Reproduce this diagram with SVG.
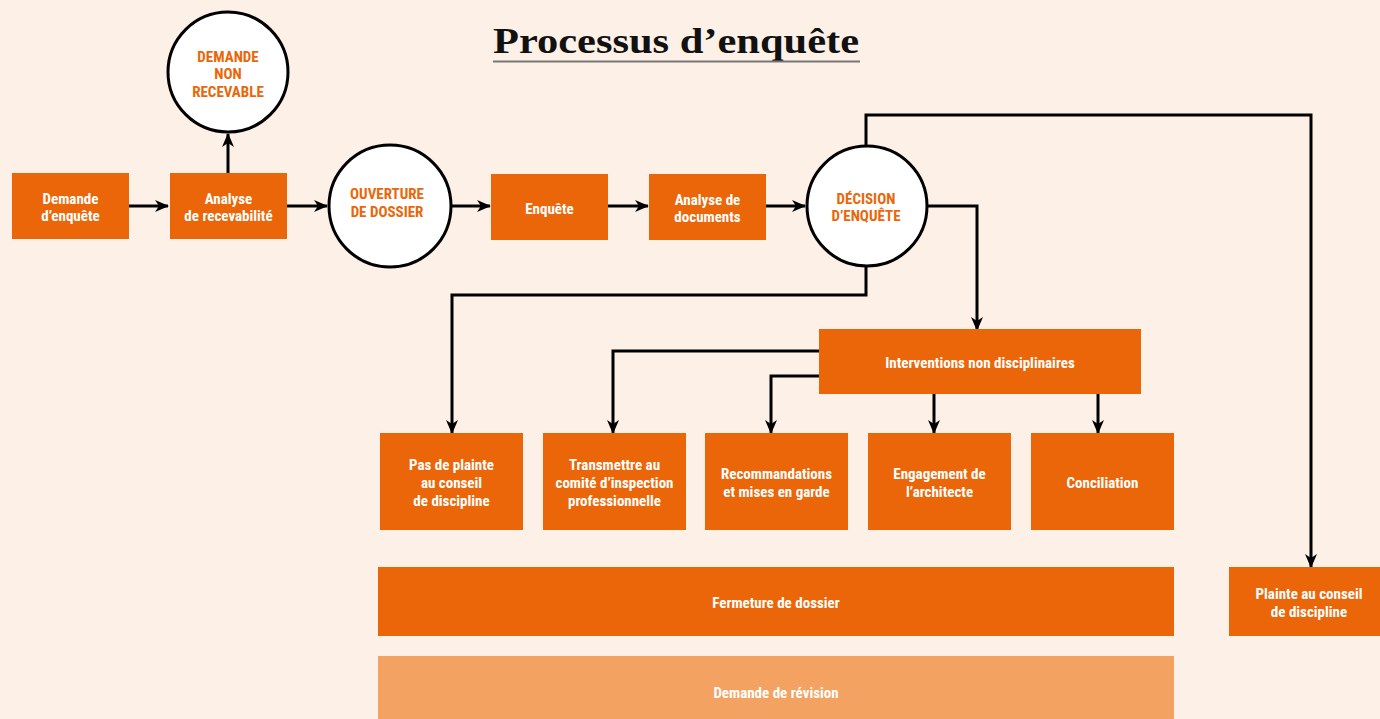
<svg xmlns="http://www.w3.org/2000/svg" width="1380" height="719" viewBox="0 0 1380 719">
<defs>
<marker id="ah" viewBox="0 0 14 12" refX="13" refY="6" markerWidth="14" markerHeight="12" markerUnits="userSpaceOnUse" orient="auto">
<path d="M0,0 L14,6 L0,12 L4,6 Z" fill="#000"/>
</marker>
<style>
.box{fill:#EB6608}
.light{fill:#F4A261}
.circ{fill:#fff;stroke:#000;stroke-width:3}
.t{font-family:"Roboto Condensed","DejaVu Sans Condensed","Liberation Sans",sans-serif;font-weight:bold;font-size:15px;fill:#fff;text-anchor:middle}
.ct{font-family:"Roboto Condensed","DejaVu Sans Condensed","Liberation Sans",sans-serif;font-weight:bold;font-size:15px;fill:#EB6608;text-anchor:middle}
.c{fill:none;stroke:#000;stroke-width:3}
</style>
</defs>
<rect width="1380" height="719" fill="#FDF0E7"/>
<g id="title">
<text x="493" y="53" font-family="Liberation Serif, serif" font-weight="bold" font-size="36" textLength="366" lengthAdjust="spacingAndGlyphs" fill="#111">Processus d’enquête</text>
<line x1="493" y1="61.5" x2="860" y2="61.5" stroke="#777" stroke-width="2"/>
</g>
<g id="connectors">
<path class="c" d="M129,206 H168" marker-end="url(#ah)"/>
<path class="c" d="M228,173 V134" marker-end="url(#ah)"/>
<path class="c" d="M287,206 H327" marker-end="url(#ah)"/>
<path class="c" d="M451,206 H490" marker-end="url(#ah)"/>
<path class="c" d="M608,206 H648" marker-end="url(#ah)"/>
<path class="c" d="M766,206 H805" marker-end="url(#ah)"/>
<path class="c" d="M928,206 H977 V330" marker-end="url(#ah)"/>
<path class="c" d="M866,266 V295 H452 V433" marker-end="url(#ah)"/>
<path class="c" d="M866,147 V115 H1311 V567" marker-end="url(#ah)"/>
<path class="c" d="M819,351 H613 V433" marker-end="url(#ah)"/>
<path class="c" d="M819,376 H771 V433" marker-end="url(#ah)"/>
<path class="c" d="M934,394 V433" marker-end="url(#ah)"/>
<path class="c" d="M1098,394 V433" marker-end="url(#ah)"/>
</g>
<g id="demande-enquete"><rect class="box" x="12" y="173" width="117" height="66"/><text class="t" x="70.5" y="204">Demande</text><text class="t" x="70.5" y="221">d’enquête</text></g>
<g id="analyse-recevabilite"><rect class="box" x="170" y="173" width="117" height="66"/><text class="t" x="228.5" y="204">Analyse</text><text class="t" x="228.5" y="221">de recevabilité</text></g>
<g id="demande-non-recevable"><circle class="circ" cx="228" cy="72" r="60"/><text class="ct" x="228" y="62">DEMANDE</text><text class="ct" x="228" y="79">NON</text><text class="ct" x="228" y="97">RECEVABLE</text></g>
<g id="ouverture"><circle class="circ" cx="390" cy="206" r="61"/><text class="ct" x="387" y="199">OUVERTURE</text><text class="ct" x="387" y="217">DE DOSSIER</text></g>
<g id="enquete"><rect class="box" x="491" y="174" width="117" height="66"/><text class="t" x="549.5" y="214">Enquête</text></g>
<g id="analyse-documents"><rect class="box" x="649" y="174" width="117" height="66"/><text class="t" x="707.5" y="205">Analyse de</text><text class="t" x="707.5" y="222">documents</text></g>
<g id="decision"><circle class="circ" cx="867" cy="206" r="60"/><text class="ct" x="866" y="204">DÉCISION</text><text class="ct" x="866" y="221">D’ENQUÊTE</text></g>
<g id="interventions"><rect class="box" x="819" y="329" width="322" height="65"/><text class="t" x="980" y="368">Interventions non disciplinaires</text></g>
<g id="pas-de-plainte"><rect class="box" x="380" y="433" width="143" height="97"/><text class="t" x="451.5" y="470">Pas de plainte</text><text class="t" x="451.5" y="488">au conseil</text><text class="t" x="451.5" y="506">de discipline</text></g>
<g id="transmettre"><rect class="box" x="543" y="433" width="143" height="97"/><text class="t" x="614.5" y="470">Transmettre au</text><text class="t" x="614.5" y="488">comité d’inspection</text><text class="t" x="614.5" y="506">professionnelle</text></g>
<g id="recommandations"><rect class="box" x="705" y="433" width="143" height="97"/><text class="t" x="776.5" y="479">Recommandations</text><text class="t" x="776.5" y="497">et mises en garde</text></g>
<g id="engagement"><rect class="box" x="868" y="433" width="143" height="97"/><text class="t" x="939.5" y="479">Engagement de</text><text class="t" x="939.5" y="497">l’architecte</text></g>
<g id="conciliation"><rect class="box" x="1031" y="433" width="143" height="97"/><text class="t" x="1102.5" y="488">Conciliation</text></g>
<g id="fermeture"><rect class="box" x="378" y="567" width="796" height="69"/><text class="t" x="776" y="608">Fermeture de dossier</text></g>
<g id="revision"><rect class="light" x="378" y="656" width="796" height="63"/><text class="t" x="776" y="698">Demande de révision</text></g>
<g id="plainte-conseil"><rect class="box" x="1229" y="567" width="151" height="69"/><text class="t" x="1309" y="599">Plainte au conseil</text><text class="t" x="1309" y="617">de discipline</text></g>
</svg>
